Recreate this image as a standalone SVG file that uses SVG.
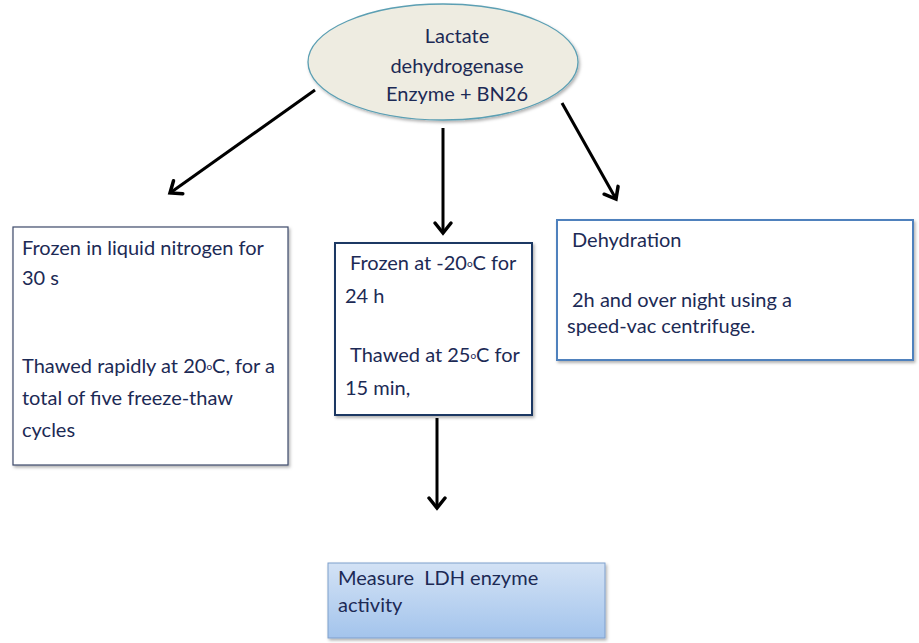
<svg xmlns="http://www.w3.org/2000/svg" width="919" height="643" viewBox="0 0 919 643">
<defs>
<style>
.t{font-family:Lato,"Liberation Sans",Arial,sans-serif;font-size:20px;fill:#1c2a55}
.sup{font-size:10px}
.conn line{stroke:#000;stroke-width:3}
</style>
<marker id="ah" markerUnits="userSpaceOnUse" markerWidth="30" markerHeight="30" viewBox="-15 -15 30 30" refX="0" refY="0" orient="auto">
<path d="M-10,-8 L0,0 L-10,8" fill="none" stroke="#000" stroke-width="3.5" stroke-linejoin="miter" stroke-linecap="round"/>
</marker>
<linearGradient id="bg" x1="0" y1="0" x2="0" y2="1">
<stop offset="0" stop-color="#d3e2f5"/>
<stop offset="1" stop-color="#a3c4ec"/>
</linearGradient>
<filter id="sh" x="-5%" y="-5%" width="115%" height="115%">
<feDropShadow dx="1.5" dy="2" stdDeviation="1.5" flood-color="#000" flood-opacity="0.3"/>
</filter>
</defs>
<rect width="919" height="643" fill="#fff"/>
<g class="conn" id="connectors">
<line x1="315" y1="90" x2="170" y2="193" marker-end="url(#ah)"/>
<line x1="443" y1="128" x2="443" y2="233" marker-end="url(#ah)"/>
<line x1="562" y1="103" x2="616" y2="199" marker-end="url(#ah)"/>
<line x1="437" y1="418" x2="437" y2="508" marker-end="url(#ah)"/>
</g>
<g id="start">
<ellipse cx="443" cy="62" rx="135" ry="58" fill="#eeece1" stroke="#5b9fb3" stroke-width="1.3" filter="url(#sh)"/>
<text class="t" x="457" y="43" text-anchor="middle">Lactate</text>
<text class="t" x="457" y="73" text-anchor="middle">dehydrogenase</text>
<text class="t" x="457" y="101" text-anchor="middle">Enzyme + BN26</text>
</g>
<g id="liquid-nitrogen">
<rect x="13" y="227" width="275" height="238" fill="#fff" stroke="#3c4a6a" stroke-width="1.2" filter="url(#sh)"/>
<text class="t" x="22" y="255">Frozen in liquid nitrogen for</text>
<text class="t" x="22" y="285">30 s</text>
<text class="t" x="22" y="373">Thawed rapidly at 20<tspan class="sup" dy="-3">o</tspan><tspan dy="3">C, for a</tspan></text>
<text class="t" x="22" y="405">total of five freeze-thaw</text>
<text class="t" x="22" y="437">cycles</text>
</g>
<g id="frozen-20">
<rect x="335" y="243" width="197" height="172" fill="#fff" stroke="#1f3864" stroke-width="2" filter="url(#sh)"/>
<text class="t" x="350" y="270">Frozen at -20<tspan class="sup" dy="-3">o</tspan><tspan dy="3">C for</tspan></text>
<text class="t" x="345" y="303">24 h</text>
<text class="t" x="350" y="362">Thawed at 25<tspan class="sup" dy="-3">o</tspan><tspan dy="3">C for</tspan></text>
<text class="t" x="345" y="395">15 min,</text>
</g>
<g id="dehydration">
<rect x="557" y="220" width="356" height="140" fill="#fff" stroke="#4f81bd" stroke-width="2" filter="url(#sh)"/>
<text class="t" x="572" y="247">Dehydration</text>
<text class="t" x="572" y="307">2h and over night using a</text>
<text class="t" x="567" y="333">speed-vac centrifuge.</text>
</g>
<g id="measure">
<rect x="328" y="563" width="277" height="75" fill="url(#bg)" stroke="#7f9fcc" stroke-width="1" filter="url(#sh)"/>
<text class="t" x="338" y="585" xml:space="preserve">Measure  LDH enzyme</text>
<text class="t" x="338" y="612">activity</text>
</g>
</svg>
